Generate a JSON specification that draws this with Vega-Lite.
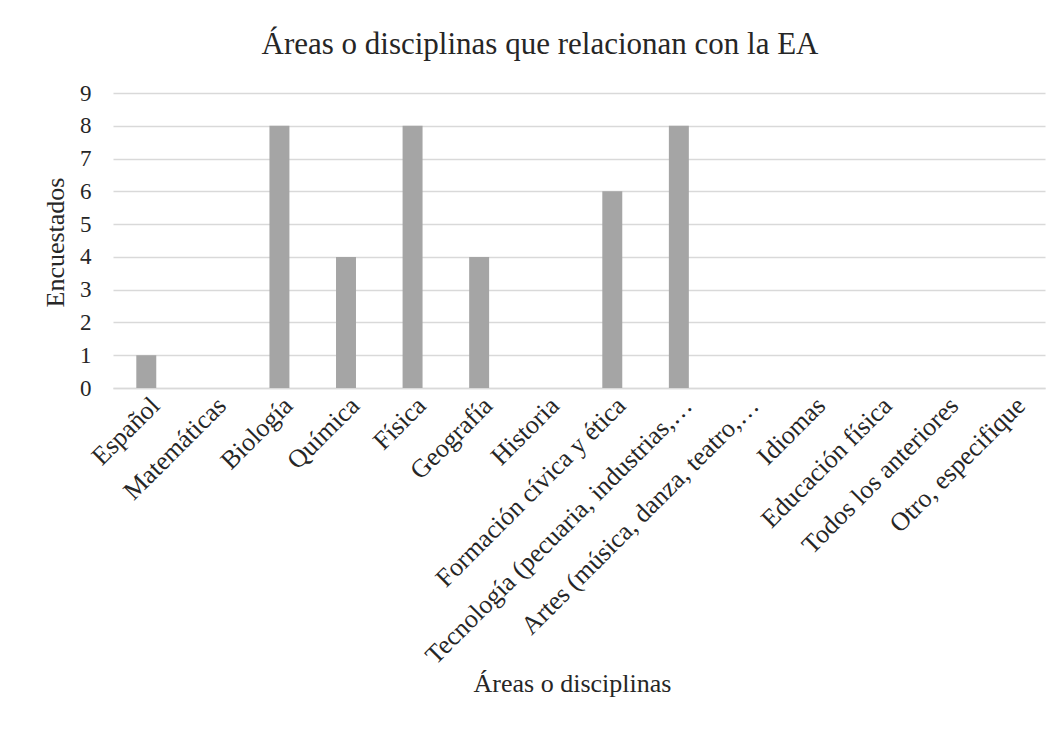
{
  "$schema": "https://vega.github.io/schema/vega-lite/v6.json",
  "autosize": "none",
  "width": 932,
  "height": 295,
  "padding": {"left": 113, "top": 93, "right": 13, "bottom": 341},
  "background": "white",
  "title": {
    "text": "Áreas o disciplinas que relacionan con la EA",
    "font": "Liberation Serif",
    "fontSize": 31,
    "fontWeight": "normal",
    "color": "#262626",
    "anchor": "middle",
    "frame": "group",
    "offset": 21,
    "dx": -39
  },
  "data": {
    "values": [
      {"area": "Español", "n": 1},
      {"area": "Matemáticas", "n": 0},
      {"area": "Biología", "n": 8},
      {"area": "Química", "n": 4},
      {"area": "Física", "n": 8},
      {"area": "Geografía", "n": 4},
      {"area": "Historia", "n": 0},
      {"area": "Formación cívica y ética", "n": 6},
      {"area": "Tecnología (pecuaria, industrias,…", "n": 8},
      {"area": "Artes (música, danza, teatro,…", "n": 0},
      {"area": "Idiomas", "n": 0},
      {"area": "Educación física", "n": 0},
      {"area": "Todos los anteriores", "n": 0},
      {"area": "Otro, especifique", "n": 0}
    ]
  },
  "mark": {"type": "bar", "color": "#a5a5a5"},
  "encoding": {
    "x": {
      "field": "area",
      "type": "nominal",
      "sort": null,
      "scale": {"paddingInner": 0.7, "paddingOuter": 0.35},
      "axis": {
        "title": "Áreas o disciplinas",
        "titleFont": "Liberation Serif",
        "titleFontSize": 26,
        "titleFontWeight": "normal",
        "titleColor": "#262626",
        "titleX": 459,
        "titleY": 295,
        "titleBaseline": "middle",
        "titleAnchor": "middle",
        "titleAlign": "center",
        "labelAngle": -45,
        "labelFont": "Liberation Serif",
        "labelFontSize": 26,
        "labelColor": "#262626",
        "labelPadding": 4,
        "labelLimit": 500,
        "ticks": false,
        "domainColor": "#d9d9d9",
        "domainWidth": 1.5
      }
    },
    "y": {
      "field": "n",
      "type": "quantitative",
      "scale": {"domain": [0, 9], "nice": false},
      "axis": {
        "title": "Encuestados",
        "titleFont": "Liberation Serif",
        "titleFontSize": 26,
        "titleFontWeight": "normal",
        "titleColor": "#262626",
        "titleAngle": -90,
        "titleX": -58,
        "titleY": 149,
        "titleBaseline": "middle",
        "titleAlign": "center",
        "values": [0, 1, 2, 3, 4, 5, 6, 7, 8, 9],
        "labelFont": "Liberation Serif",
        "labelFontSize": 23,
        "labelColor": "#262626",
        "labelPadding": 22,
        "ticks": false,
        "domain": false,
        "grid": true,
        "gridColor": "#d9d9d9",
        "gridWidth": 1.5
      }
    }
  },
  "config": {"view": {"stroke": null}}
}
